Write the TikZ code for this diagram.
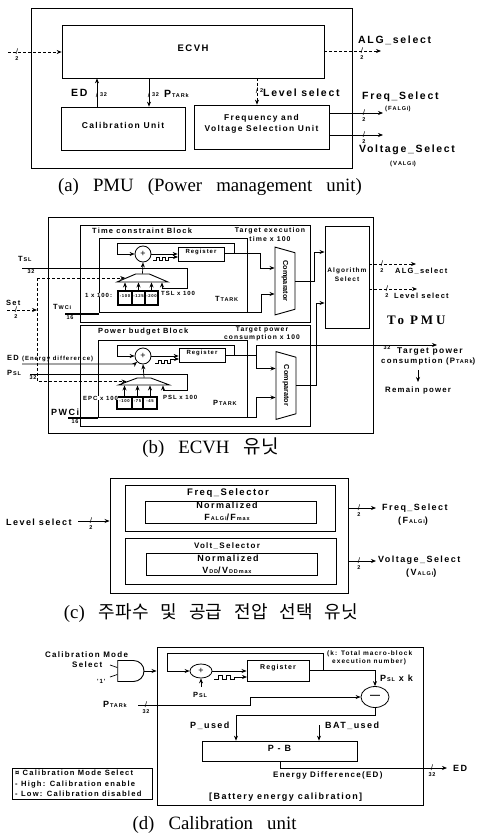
\documentclass[tikz,border=0pt]{standalone}
\usepackage{fontspec}
\usetikzlibrary{arrows.meta, positioning, fit, calc, shapes.geometric, shapes.gates.logic.US}
\setmainfont{Liberation Serif}
\newfontfamily\lblfont[LetterSpace=16]{Liberation Sans}
\newfontfamily\cmpfont{Liberation Sans}
\newfontfamily\capfont[WordSpace=3]{Liberation Serif}
\newfontfamily\pmufont[LetterSpace=22]{Liberation Serif}
\newfontfamily\krfont[WordSpace=3]{Noto Sans CJK KR}
\newcommand{\subs}[1]{{\fontsize{5.5}{6}\lblfont\bfseries\,#1}}
\newcommand{\busmark}[4]{\node[slashmark] (#1) at (#2) {/}; \node[bustext, #4=1.5pt of #1] (#1t) {#3};}
\newcommand{\muxfill}{\phantom{\rule{1pt}{1pt}}}
\tikzset{
  box/.style={draw, inner sep=0pt, line width=0.9pt, align=center},
  thinbox/.style={box, line width=0.7pt},
  rom/.style={box, line width=1.1pt, font=\fontsize{4.2}{5}\lblfont\bfseries},
  wire/.style={line width=0.7pt, >={Stealth[length=5pt,width=4pt]}},
  dashwire/.style={wire, densely dashed},
  lbig/.style={inner sep=0pt, anchor=west, font=\fontsize{10.5}{11}\lblfont\bfseries},
  lrg/.style={inner sep=0pt, anchor=west, font=\fontsize{9}{10}\lblfont\bfseries},
  lmid/.style={inner sep=0pt, anchor=west, font=\fontsize{7.5}{9}\lblfont\bfseries},
  lsma/.style={inner sep=0pt, anchor=west, font=\fontsize{6}{7}\lblfont\bfseries},
  slashmark/.style={inner sep=0pt, font=\fontsize{8}{8}\lblfont},
  bustext/.style={inner sep=0pt, font=\fontsize{5.5}{6}\lblfont\bfseries},
  capt/.style={inner sep=0pt, font=\fontsize{18.8}{20}\capfont},
  sumnode/.style={draw, ellipse, inner sep=0pt, line width=0.8pt, font=\fontsize{9}{9}\lblfont},
  mux/.style={draw, trapezium, trapezium stretches=true, inner sep=0pt, line width=0.9pt},
  comparator/.style={draw, trapezium, trapezium stretches=true, rotate=-90, inner sep=0pt, line width=0.9pt,
    minimum width=68pt, minimum height=20pt, trapezium left angle=58, trapezium right angle=58,
    font=\fontsize{7.3}{8}\cmpfont\bfseries},
}
\begin{document}
\begin{tikzpicture}[x=1pt, y=-1pt]
\useasboundingbox (0,0) rectangle (477,837);

\node[box, fit={(31,8) (352,168)}] (pmu) {};
\node[thinbox, fill=white, fit={(62,25) (324,78)}, font=\fontsize{9.5}{10}\lblfont\bfseries] (ecvh) {ECVH};
\node[thinbox, fill=white, fit={(61,107) (185,150)}, font=\fontsize{8.5}{9}\lblfont\bfseries] (cal) {Calibration Unit};
\node[thinbox, fill=white, fit={(194,105) (329,149)}, font=\fontsize{8.4}{11}\lblfont\bfseries] (fvu) {Frequency and\\Voltage Selection Unit};
\coordinate (ain) at (8,52);
\coordinate (aalg) at (381,51);
\coordinate (aed) at (97,92);
\coordinate (apt) at (149,92);
\coordinate (alev) at (257,92);
\coordinate (afr) at (383,113);
\coordinate (avo) at (383,135);
\draw[dashwire,->] (ain) -- (ain -| ecvh.west);
\draw[dashwire,->] (aalg -| ecvh.east) -- (aalg);
\draw[wire,->] (aed |- cal.north) -- (aed |- ecvh.south);
\draw[wire,->] (apt |- ecvh.south) -- (apt |- cal.north);
\draw[dashwire,->] (alev |- ecvh.south) -- (alev |- fvu.north);
\draw[wire,->] (afr -| fvu.east) -- (afr);
\draw[wire,->] (avo -| fvu.east) -- (avo);
\busmark{ba}{17,52}{2}{below}
\busmark{bb}{362,51}{2}{below}
\busmark{bc}{97,95}{32}{right}
\busmark{bd}{149,95}{32}{right}
\busmark{be}{257,91}{2}{right}
\busmark{bf}{364,113}{2}{below}
\busmark{bg}{364,135}{2}{below}
\node[lbig] (taalg) at (358,40) {ALG\_select};
\node[lbig] (taed) at (71,93) {ED};
\node[lbig] (tapt) at (164,94) {P\subs{TARk}};
\node[lbig] (talev) at (263,93) {Level select};
\node[lbig] (tafr) at (362,97) {Freq\_Select};
\node[lsma] (tafa) at (385,109) {(F\subs{ALGi})};
\node[lbig] (tavo) at (359,150) {Voltage\_Select};
\node[lsma] (tava) at (390,164) {(V\subs{ALGi})};
\node[capt] (capa) at (210,187) {(a) PMU (Power management unit)};

\node[box, fit={(48,217) (373,433)}] (ecvhb) {};
\node[thinbox, fill=white, fit={(80,225) (310,322)}] (tblk) {};
\node[thinbox, fit={(99,238) (247,312)}] (tin) {};
\node[thinbox, fill=white, fit={(80,325) (310,426)}] (pblk) {};
\node[thinbox, fit={(98,340) (247,417)}] (pin) {};
\node[box, fill=white, fit={(325,226) (369,328)}, font=\fontsize{6.5}{9.5}\lblfont\bfseries] (asel) {Algorithm\\Select};
\node[lmid] (tt) at (92,231) {Time constraint Block};
\node[lsma, anchor=center, align=center, font=\fontsize{6.9}{8.4}\lblfont\bfseries] (ttg) at (270,234.5) {Target execution\\time x 100};
\node[lmid] (pt) at (98,332) {Power budget Block};
\node[lsma, anchor=center, align=center, font=\fontsize{6.7}{8}\lblfont\bfseries] (ptg) at (262,333.5) {Target power\\consumption x 100};

\node[sumnode, minimum size=16pt] (tsum) at (143,254) {+};
\node[thinbox, fit={(178,247) (224,261)}, font=\fontsize{6}{7}\lblfont\bfseries] (treg) {Register};
\node[mux, minimum width=51pt, minimum height=8pt, trapezium left angle=36, trapezium right angle=36] (tmux) at (142.5,278) {\muxfill};
\node[rom, fit={(118,291) (132,305)}] (tra) {-100};
\node[rom, fit={(132,291) (145,305)}] (trb) {-125};
\node[rom, fit={(145,291) (158,305)}] (trc) {-200};
\node[comparator] (tcmp) at (285,281) {Comparator};
\coordinate (tback) at (234,253);
\coordinate (tloop) at (234,243);
\coordinate (tleft) at (117,243);
\coordinate (tjog) at (260,253);
\coordinate (tlow) at (261,312);
\coordinate (tsl) at (22,268);
\coordinate (tslc) at (187,268);
\coordinate (tsld) at (187,288);
\coordinate (tsle) at (162,288);
\coordinate (tpul) at (153,260);
\coordinate (twci) at (65,314);
\coordinate (setc) at (37,310);
\coordinate (setin) at (7,310);
\coordinate (tca) at ($(tcmp.south)+(0,-13)$);
\coordinate (tcb) at ($(tcmp.south)+(0,13)$);
\coordinate (treg1) at (178,257);
\draw[wire,->] (tsum.east) -- (tsum.east -| treg.west);
\draw[wire,->] (tpul) -- ++(3,0) -- ++(0,-2.5) -- ++(3,0) -- ++(0,2.5) -- ++(3,0) -- ++(0,-2.5) -- ++(3,0) -- ++(0,2.5) -- ++(3,0) -- ++(0,-3) -- (treg1);
\draw[wire,->] (treg.east |- tback) -- (tback) -- (tloop) -- (tleft) -- (tleft |- tsum.west) -- (tsum.west);
\draw[wire,->] (tback) -- (tjog) -- (tjog |- tca) -- (tca);
\draw[wire,->] (tin.east |- tlow) -- (tlow) -- (tlow |- tcb) -- (tcb);
\draw[wire,->] (tmux.north) -- (tsum.south);
\draw[wire] (tsl) -- (tslc) -- (tsld) -- (tsle);
\draw[wire,->] (tsle) -- (tsle |- tmux.south);
\draw[wire,->] (tra.north) -- (tra.north |- tmux.south);
\draw[wire,->] (trb.north) -- (trb.north |- tmux.south);
\draw[wire,->] (trc.north) -- (trc.north |- tmux.south);
\draw[wire, line width=1.3pt] (twci) -- (twci -| tin.west);
\node[lsma, fill=white] (t100) at (85,295) {1 x 100:};
\node[lsma] (ttsl) at (161,293) {TSL x 100};
\node[lmid] (tttar) at (215,299) {T\subs{TARK}};
\node[lmid] (ttsi) at (18,259) {T\subs{SL}};
\node[lmid] (tset) at (6,303) {Set};
\node[lmid] (ttwc) at (53,307) {T\subs{WCi}};
\node[bustext] (b32a) at (31,272) {32};
\node[bustext] (b16a) at (70,318) {16};
\busmark{bh}{16,310}{2}{below}

\node[sumnode, minimum size=16pt] (psum) at (143,356) {+};
\node[thinbox, fit={(179,348) (225,362)}, font=\fontsize{6}{7}\lblfont\bfseries] (preg) {Register};
\node[mux, minimum width=51pt, minimum height=7pt, trapezium left angle=36, trapezium right angle=36] (pmux) at (144,381.5) {\muxfill};
\node[rom, fit={(117,397) (132,409)}] (pra) {-100};
\node[rom, fit={(132,397) (143,409)}] (prb) {-75};
\node[rom, fit={(143,397) (157,409)}] (prc) {-45};
\node[comparator] (pcmp) at (286,385.5) {Comparator};
\coordinate (pback) at (234,355);
\coordinate (ploop) at (234,345);
\coordinate (pleft) at (117,345);
\coordinate (pjog) at (256,355);
\coordinate (pout) at (437,345);
\coordinate (plow) at (256,417);
\coordinate (psl) at (30,374);
\coordinate (pslc) at (187,374);
\coordinate (psld) at (187,390);
\coordinate (psle) at (163,390);
\coordinate (ppul) at (155,363);
\coordinate (edin) at (22,364);
\coordinate (pwc) at (68,418);
\coordinate (aup) at (316,303);
\coordinate (aupt) at (314,252);
\coordinate (pca) at ($(pcmp.south)+(0,-17)$);
\coordinate (pcb) at ($(pcmp.south)+(0,12)$);
\coordinate (preg1) at (179,359);
\draw[wire,->] (psum.east) -- (psum.east -| preg.west);
\draw[wire,->] (ppul) -- ++(3,0) -- ++(0,-3) -- ++(3,0) -- ++(0,3) -- ++(3,0) -- ++(0,-3) -- ++(3,0) -- ++(0,3) -- ++(3,0) -- ++(0,-4) -- (preg1);
\draw[wire,->] (preg.east |- pback) -- (pback) -- (ploop) -- (pleft) -- (pleft |- psum.west) -- (psum.west);
\draw[wire] (pback) -- (pjog) -- (pjog |- pout);
\draw[wire,->] (pjog |- pout) -- (pout);
\draw[wire,->] (pjog) -- (pjog |- pca) -- (pca);
\draw[wire,->] (pin.east |- plow) -- (plow) -- (plow |- pcb) -- (pcb);
\draw[wire,->] (pmux.north) -- (psum.south);
\draw[wire] (psl) -- (pslc) -- (psld) -- (psle);
\draw[wire,->] (psle) -- (psle |- pmux.south);
\draw[wire,->] (pra.north) -- (pra.north |- pmux.south);
\draw[wire,->] (prb.north) -- (prb.north |- pmux.south);
\draw[wire,->] (prc.north) -- (prc.north |- pmux.south);
\draw[wire,->] (edin) -- (edin -| psum.west) -- (psum.south west);
\draw[wire, line width=1.1pt] (pwc) -- (pwc -| pin.west);
\draw[dashwire,->] (setin) -- (setc);
\draw[dashwire,->] (tmux.west -| setc) -- (tmux.west);
\draw[dashwire,->] (tmux.west -| setc) -- (pmux.west -| setc) -- (pmux.west);
\draw[wire,->] (pcmp.north) -- (pcmp.north -| aup) -- (aup) -- (aup -| asel.west);
\draw[wire,->] (tcmp.north) -- (tcmp.north -| aupt) -- (aupt) -- (aupt -| asel.west);
\coordinate (oalg) at (416,264);
\coordinate (olev) at (417,289);
\draw[dashwire,->] (oalg -| asel.east) -- (oalg);
\draw[dashwire,->] (olev -| asel.east) -- (olev);
\busmark{bi}{382,264}{2}{below}
\busmark{bj}{387,289}{2}{below}
\node[lmid] (talg) at (395,271) {ALG\_select};
\node[lmid] (tlev) at (394,296) {Level select};
\node[inner sep=0pt, anchor=west, font=\fontsize{13}{14}\pmufont\bfseries] (tpmu) at (387,320) {To PMU};
\node[bustext] (b32b) at (387,348) {32};
\node[lmid, font=\fontsize{8.4}{9}\lblfont\bfseries] (ttar) at (397,351) {Target power};
\node[lmid, font=\fontsize{7.8}{9}\lblfont\bfseries] (tcon) at (381,361) {consumption (P\subs{TARk})};
\coordinate (rma) at (418,370);
\coordinate (rmb) at (418,382);
\draw[wire,->] (rma) -- (rmb);
\node[lmid, font=\fontsize{7.8}{9}\lblfont\bfseries] (trem) at (385,390) {Remain power};
\node[lsma, fill=white] (tepc) at (83,398) {EPC x 100};
\node[lsma] (tpsl) at (163,397) {PSL x 100};
\node[lmid] (tptar) at (213,403) {P\subs{TARK}};
\node[lmid] (ted) at (7,359) {ED {\fontsize{6}{7}\lblfont\bfseries(Energy difference)}};
\node[lmid] (tps) at (7,373) {P\subs{SL}};
\node[lrg] (tpwc) at (51,412) {PWCi};
\node[bustext] (b32c) at (33,378) {32};
\node[bustext] (b16b) at (75,422) {16};
\node[capt] (capb) at (210.5,448) {(b) ECVH {\fontsize{19}{20}\krfont 유닛}};

\node[box, fit={(110,478) (348,593)}] (fvb) {};
\node[thinbox, fit={(125,485) (335,531)}] (fsel) {};
\node[thinbox, fit={(145,501) (316,523)}] (finn) {};
\node[thinbox, fit={(125,538) (336,584)}] (vsel) {};
\node[thinbox, fit={(146,553) (317,575)}] (vinn) {};
\node[lrg, anchor=center, font=\fontsize{9.5}{11}\lblfont\bfseries] (tfs) at (228,493) {Freq\_Selector};
\node[lrg, anchor=center] (tfn) at (227,505) {Normalized};
\node[lrg, anchor=center] (tfr) at (227,517) {F\subs{ALGi}/F\subs{max}};
\node[lrg, anchor=center, font=\fontsize{8}{10}\lblfont\bfseries] (tvs) at (227,546) {Volt\_Selector};
\node[lrg, anchor=center] (tvn) at (228,558) {Normalized};
\node[lrg, anchor=center] (tvr) at (227,570) {V\subs{DD}/V\subs{DDmax}};
\coordinate (clev) at (78,521);
\coordinate (cfr) at (376,508);
\coordinate (cvo) at (376,561);
\draw[wire,->] (clev) -- (clev -| fvb.west);
\draw[wire,->] (cfr -| fvb.east) -- (cfr);
\draw[wire,->] (cvo -| fvb.east) -- (cvo);
\busmark{bk}{91,521}{2}{below}
\busmark{bl}{359,508}{2}{below}
\busmark{bm}{359,561}{2}{below}
\node[lrg] (tcl) at (6,522) {Level select};
\node[lrg] (tcf) at (382,508) {Freq\_Select};
\node[lrg] (tcfa) at (398,521) {(F\subs{ALGi})};
\node[lrg] (tcv) at (378,560) {Voltage\_Select};
\node[lrg] (tcva) at (406,573) {(V\subs{ALGi})};
\node[capt] (capc) at (211,613) {(c) {\fontsize{18}{20}\krfont 주파수 및 공급 전압 선택 유닛}};

\node[box, fit={(157,647) (423,805)}] (cblk) {};
\node[and gate US, draw, logic gate inputs=nn, line width=0.9pt, minimum width=25pt, minimum height=21pt, inner sep=0pt] (dand) at (130,671) {};
\node[sumnode, minimum width=22pt, minimum height=14pt] (dsum) at (201,671) {+};
\node[thinbox, line width=0.9pt, fit={(247,660) (309,681)}, font=\fontsize{7}{8}\lblfont\bfseries] (dreg) {Register};
\node[sumnode, minimum width=28pt, minimum height=21pt, font=\fontsize{10}{10}\lblfont\bfseries] (dmin) at (375,697) {—};
\node[thinbox, fit={(202,741) (357,761)}, font=\fontsize{9}{9}\lblfont\bfseries] (dpb) {P - B};
\node[thinbox, fit={(12,768) (152,799)}] (dleg) {};
\node[lsma, align=left, font=\fontsize{7.6}{10.4}\lblfont\bfseries] (dlegt) at (15,783.5) {¤ Calibration Mode Select\\- High: Calibration enable\\- Low: Calibration disabled};
\coordinate (din) at (110,665);
\coordinate (din2) at (110,677);
\coordinate (dreg1) at (247,677);
\coordinate (dtap) at (323,670);
\coordinate (dfbr) at (323,653);
\coordinate (dfbl) at (167,653);
\coordinate (dpta) at (138,705);
\coordinate (dptb) at (250,705);
\coordinate (dminl) at (375,715);
\coordinate (dused) at (236,715);
\coordinate (dbat) at (319,725);
\coordinate (dpsl) at (201,687);
\coordinate (dout) at (280,768);
\coordinate (dend) at (447,768);
\coordinate (dpul) at (214,679);
\draw[wire] (din) -- (dand.input 1);
\draw[wire] (din2) -- (dand.input 2);
\draw[wire,->] (dand.output) -- (dand.output -| cblk.west);
\draw[wire,->] (dsum.east) -- (dsum.east -| dreg.west);
\draw[wire,->] (dpul) -- ++(4,0) -- ++(0,-4) -- ++(4,0) -- ++(0,4) -- ++(4,0) -- ++(0,-4) -- ++(4,0) -- ++(0,4) -- ++(4,0) -- ++(0,-2) -- (dreg1);
\draw[wire] (dreg.east |- dtap) -- (dtap);
\draw[wire,->] (dtap) -- (dfbr) -- (dfbl) -- (dfbl |- dsum.west) -- (dsum.west);
\draw[wire,->] (dtap) -- (dtap -| dmin.north) -- (dmin.north);
\draw[wire,->] (dpta) -- (dptb) -- (dptb |- dmin.west) -- (dmin.west);
\draw[wire,->] (dmin.south) -- (dminl) -- (dused) -- (dused |- dpb.north);
\draw[wire,->] (dbat) -- (dbat |- dpb.north);
\draw[wire,->] (dpsl) -- (dsum.south);
\draw[wire,->] (dout |- dpb.south) -- (dout) -- (dend);
\busmark{bn}{146,705}{32}{below}
\busmark{bo}{432,768}{32}{below}
\node[lmid, font=\fontsize{8}{9}\lblfont\bfseries] (td1) at (45,655) {Calibration Mode};
\node[lmid, font=\fontsize{8}{9}\lblfont\bfseries] (td2) at (72,665) {Select};
\node[lsma] (td3) at (97,681) {'1'};
\node[lrg] (tdpt) at (103,704) {P\subs{TARk}};
\node[lmid] (tdps) at (193,695) {P\subs{SL}};
\node[lsma, font=\fontsize{6.5}{7}\lblfont\bfseries] (tdk1) at (327,654) {(k: Total macro-block};
\node[lsma, font=\fontsize{6.5}{7}\lblfont\bfseries] (tdk2) at (332,662) {execution number)};
\node[lrg] (tdpk) at (380,678) {P\subs{SL} x k};
\node[lrg] (tdpu) at (190,726) {P\_used};
\node[lrg] (tdbu) at (325,726) {BAT\_used};
\node[lmid, font=\fontsize{8}{9}\lblfont\bfseries] (tdeg) at (273,775) {Energy Difference(ED)};
\node[lrg] (tdbt) at (209,797) {[Battery energy calibration]};
\node[lrg] (tded) at (453,768) {ED};
\node[capt] (capd) at (214.5,825) {(d) Calibration unit};
\end{tikzpicture}
\end{document}
